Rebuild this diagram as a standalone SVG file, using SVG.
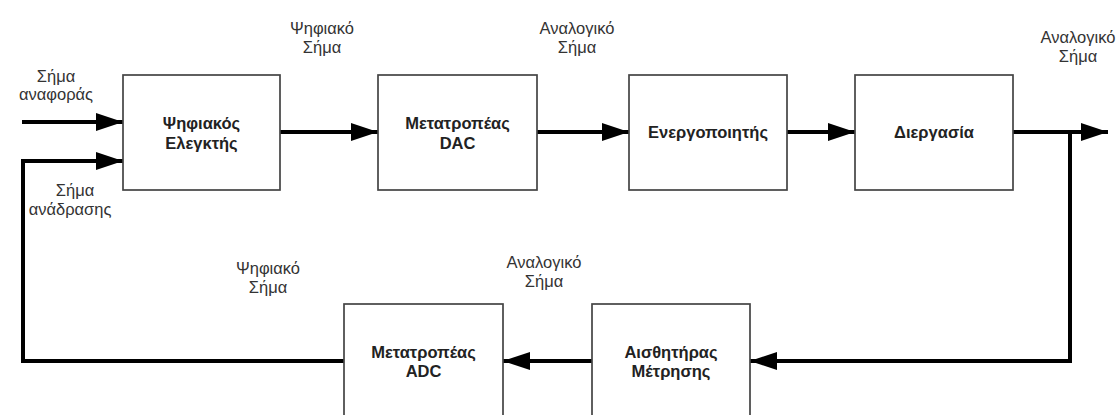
<svg xmlns="http://www.w3.org/2000/svg" width="1117" height="415" viewBox="0 0 1117 415">
  <style>
    .box { fill: #ffffff; stroke: #444444; stroke-width: 1.7; }
    .title { font-family: "Liberation Sans", Arial, sans-serif; font-size: 16.5px; font-weight: bold; fill: #222222; text-anchor: middle; }
    .label { font-family: "Liberation Sans", Arial, sans-serif; font-size: 16.5px; fill: #333333; text-anchor: middle; }
    .wire { fill: none; stroke: #000000; stroke-width: 4; stroke-linejoin: miter; }
  </style>
  <defs>
    <marker id="head" viewBox="0 0 27 18" refX="27" refY="9" markerWidth="27" markerHeight="18" markerUnits="userSpaceOnUse" orient="auto">
      <path d="M0,0 L27,9 L0,18 Z" fill="#000000"/>
    </marker>
  </defs>

  <rect width="1117" height="415" fill="#ffffff"/>

  <!-- connectors -->
  <g id="connectors">
    <path class="wire" d="M22,122 H123" marker-end="url(#head)"/>
    <path class="wire" d="M344,361 H23 V161 H123" marker-end="url(#head)"/>
    <path class="wire" d="M280,132 H378" marker-end="url(#head)"/>
    <path class="wire" d="M537,132 H629" marker-end="url(#head)"/>
    <path class="wire" d="M787,132 H855" marker-end="url(#head)"/>
    <path class="wire" d="M1013,132 H1108" marker-end="url(#head)"/>
    <path class="wire" d="M1070,132 V361 H750" marker-end="url(#head)"/>
    <path class="wire" d="M592,361 H503" marker-end="url(#head)"/>
  </g>

  <!-- blocks -->
  <g id="controller">
    <rect class="box" x="123" y="75" width="157" height="115"/>
    <text class="title" x="201.5" y="129">Ψηφιακός</text>
    <text class="title" x="201.5" y="149">Ελεγκτής</text>
  </g>
  <g id="dac">
    <rect class="box" x="378" y="75" width="159" height="115"/>
    <text class="title" x="457.5" y="129">Μετατροπέας</text>
    <text class="title" x="457.5" y="149">DAC</text>
  </g>
  <g id="actuator">
    <rect class="box" x="629" y="75" width="158" height="115"/>
    <text class="title" x="708" y="138">Ενεργοποιητής</text>
  </g>
  <g id="process">
    <rect class="box" x="855" y="75" width="158" height="115"/>
    <text class="title" x="934" y="138">Διεργασία</text>
  </g>
  <g id="adc">
    <rect class="box" x="344" y="304" width="159" height="125"/>
    <text class="title" x="423.5" y="358">Μετατροπέας</text>
    <text class="title" x="423.5" y="377">ADC</text>
  </g>
  <g id="sensor">
    <rect class="box" x="592" y="304" width="158" height="125"/>
    <text class="title" x="671" y="358">Αισθητήρας</text>
    <text class="title" x="671" y="377">Μέτρησης</text>
  </g>

  <!-- signal labels -->
  <g id="labels">
    <text class="label" x="56" y="82">Σήμα</text>
    <text class="label" x="56" y="100">αναφοράς</text>
    <text class="label" x="75" y="196">Σήμα</text>
    <text class="label" x="70" y="215">ανάδρασης</text>
    <text class="label" x="322" y="34">Ψηφιακό</text>
    <text class="label" x="322" y="53">Σήμα</text>
    <text class="label" x="577" y="34">Αναλογικό</text>
    <text class="label" x="577" y="53">Σήμα</text>
    <text class="label" x="1078" y="43">Αναλογικό</text>
    <text class="label" x="1078" y="62">Σήμα</text>
    <text class="label" x="268" y="274">Ψηφιακό</text>
    <text class="label" x="268" y="293">Σήμα</text>
    <text class="label" x="544" y="268">Αναλογικό</text>
    <text class="label" x="544" y="287">Σήμα</text>
  </g>
</svg>
